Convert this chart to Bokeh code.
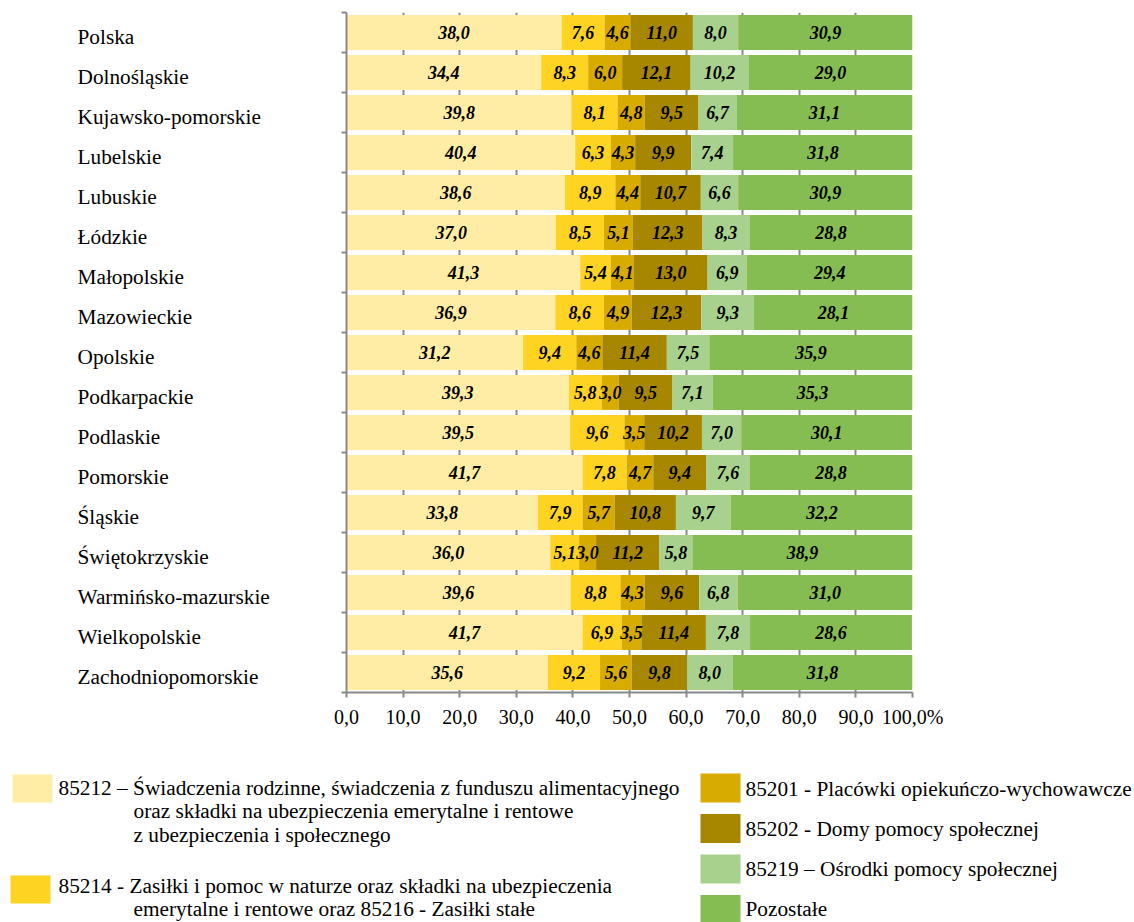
from bokeh.plotting import figure
from bokeh.models import Range1d, FixedTicker, ColumnDataSource
from bokeh.layouts import column, row
from bokeh.embed import file_html
from bokeh.resources import INLINE
from bokeh.core.properties import value

regions = ["Polska", "Dolnośląskie", "Kujawsko-pomorskie", "Lubelskie", "Lubuskie",
           "Łódzkie", "Małopolskie", "Mazowieckie", "Opolskie", "Podkarpackie",
           "Podlaskie", "Pomorskie", "Śląskie", "Świętokrzyskie",
           "Warmińsko-mazurskie", "Wielkopolskie", "Zachodniopomorskie"]

s85212 = [38.0, 34.4, 39.8, 40.4, 38.6, 37.0, 41.3, 36.9, 31.2, 39.3, 39.5, 41.7, 33.8, 36.0, 39.6, 41.7, 35.6]
s85214 = [7.6, 8.3, 8.1, 6.3, 8.9, 8.5, 5.4, 8.6, 9.4, 5.8, 9.6, 7.8, 7.9, 5.1, 8.8, 6.9, 9.2]
s85201 = [4.6, 6.0, 4.8, 4.3, 4.4, 5.1, 4.1, 4.9, 4.6, 3.0, 3.5, 4.7, 5.7, 3.0, 4.3, 3.5, 5.6]
s85202 = [11.0, 12.1, 9.5, 9.9, 10.7, 12.3, 13.0, 12.3, 11.4, 9.5, 10.2, 9.4, 10.8, 11.2, 9.6, 11.4, 9.8]
s85219 = [8.0, 10.2, 6.7, 7.4, 6.6, 8.3, 6.9, 9.3, 7.5, 7.1, 7.0, 7.6, 9.7, 5.8, 6.8, 7.8, 8.0]
pozostale = [30.9, 29.0, 31.1, 31.8, 30.9, 28.8, 29.4, 28.1, 35.9, 35.3, 30.1, 28.8, 32.2, 38.9, 31.0, 28.6, 31.8]

series_keys = ["s85212", "s85214", "s85201", "s85202", "s85219", "pozostale"]
series_vals = [s85212, s85214, s85201, s85202, s85219, pozostale]
colors = ["#FFEDA6", "#FFD322", "#D7AB00", "#A78600", "#A9D18E", "#86BD52"]

legend_left = [
    ["85212 – Świadczenia rodzinne, świadczenia z funduszu alimentacyjnego",
     "oraz składki na ubezpieczenia emerytalne i rentowe",
     "z ubezpieczenia i społecznego"],
    ["85214 - Zasiłki i pomoc w naturze oraz składki na ubezpieczenia",
     "emerytalne i rentowe oraz 85216 - Zasiłki stałe"],
]
legend_right = ["85201 - Placówki opiekuńczo-wychowawcze",
                "85202 - Domy pomocy społecznej",
                "85219 – Ośrodki pomocy  społecznej",
                "Pozostałe"]

x_ticks = [0, 10, 20, 30, 40, 50, 60, 70, 80, 90, 100]

FONT_NAME = "Liberation Serif"
SERIF = value(FONT_NAME)
GRAY = "#898989"
n = len(regions)
ypos = [i + 0.5 for i in range(n)]

data = {"y": ypos, "region": regions}
for k, v in zip(series_keys, series_vals):
    data[k] = v
src = ColumnDataSource(data)

# ---- main chart ----
p = figure(width=808, height=750, x_range=Range1d(0, 100), y_range=Range1d(n, 0),
           output_backend="svg", toolbar_location=None,
           min_border_left=20, min_border_right=222, min_border_top=12, min_border_bottom=58)
p.outline_line_color = None
p.background_fill_color = "white"

p.hbar_stack(series_keys, y="y", height=0.87, color=colors, source=src, line_color=None)

# value labels
mids, labs, ys = [], [], []
for i in range(n):
    left = 0.0
    for v in series_vals:
        val = v[i]
        mids.append(left + val / 2.0)
        labs.append(f"{val:.1f}".replace(".", ","))
        ys.append(ypos[i])
        left += val
p.text(x=mids, y=ys, text=labs, text_font=SERIF, text_font_style="bold italic",
       text_font_size="18px", text_align="center", text_baseline="middle", text_color="black")

p.xgrid.ticker = FixedTicker(ticks=x_ticks)
p.xgrid.grid_line_color = GRAY
p.xgrid.grid_line_width = 2
p.ygrid.visible = False

xa = p.xaxis[0]
xa.ticker = FixedTicker(ticks=x_ticks)
overrides = {t: f"{t:.1f}".replace(".", ",") for t in x_ticks}
overrides[x_ticks[-1]] = overrides[x_ticks[-1]] + "%"
xa.major_label_overrides = overrides
xa.axis_line_color = GRAY
xa.axis_line_width = 2
xa.major_tick_line_color = GRAY
xa.major_tick_line_width = 2
xa.major_tick_out = 5
xa.major_tick_in = 0
xa.minor_tick_line_color = None
xa.major_label_text_font = FONT_NAME
xa.major_label_text_font_size = "20px"
xa.major_label_text_color = "black"
xa.major_label_standoff = 8

ya = p.yaxis[0]
ya.ticker = FixedTicker(ticks=list(range(n + 1)))
ya.major_label_overrides = {i: "" for i in range(n + 1)}
ya.axis_line_color = GRAY
ya.axis_line_width = 2
ya.major_tick_line_color = GRAY
ya.major_tick_line_width = 2
ya.major_tick_out = 5
ya.major_tick_in = 0
ya.minor_tick_line_color = None
ya.major_label_standoff = 0

# ---- category labels ----
lf = figure(width=326, height=750, x_range=Range1d(0, 326), y_range=p.y_range,
            output_backend="svg", toolbar_location=None,
            x_axis_location=None, y_axis_location=None,
            min_border_left=0, min_border_right=0, min_border_top=12, min_border_bottom=58)
lf.outline_line_color = None
lf.grid.visible = False
lf.text(x=[77] * n, y=ypos, text=regions, text_font=SERIF, text_font_size="21.3px",
        text_align="left", text_baseline="middle", y_offset=4, text_color="black")

# ---- legend ----
LW, LH = 1134, 172
lg = figure(width=LW, height=LH, x_range=Range1d(0, LW), y_range=Range1d(LH, 0),
            output_backend="svg", toolbar_location=None,
            x_axis_location=None, y_axis_location=None, min_border=0)
lg.outline_line_color = None
lg.grid.visible = False

# left column
lg.rect(x=[32, 30], y=[38, 139], width=40, height=28, fill_color=colors[:2], line_color=None)
line_y0 = [37, 135]
tx, ty, tt = [], [], []
for j, lines in enumerate(legend_left):
    for k, line in enumerate(lines):
        tx.append(58 if k == 0 else 133)
        ty.append(line_y0[j] + k * 23.5)
        tt.append(line)
# right column
m = len(legend_right)
lg.rect(x=[720] * m, y=[37.5 + 40.5 * i for i in range(m)],
        width=40, height=29, fill_color=colors[2:], line_color=None)
for i, t in enumerate(legend_right):
    tx.append(745)
    ty.append(38 + 40 * i)
    tt.append(t)
lg.text(x=tx, y=ty, text=tt, text_font=SERIF, text_font_size="21.3px",
        text_align="left", text_baseline="middle", text_color="black")

layout = column(row(lf, p), lg)
open("out.html", "w").write(file_html(layout, INLINE))
